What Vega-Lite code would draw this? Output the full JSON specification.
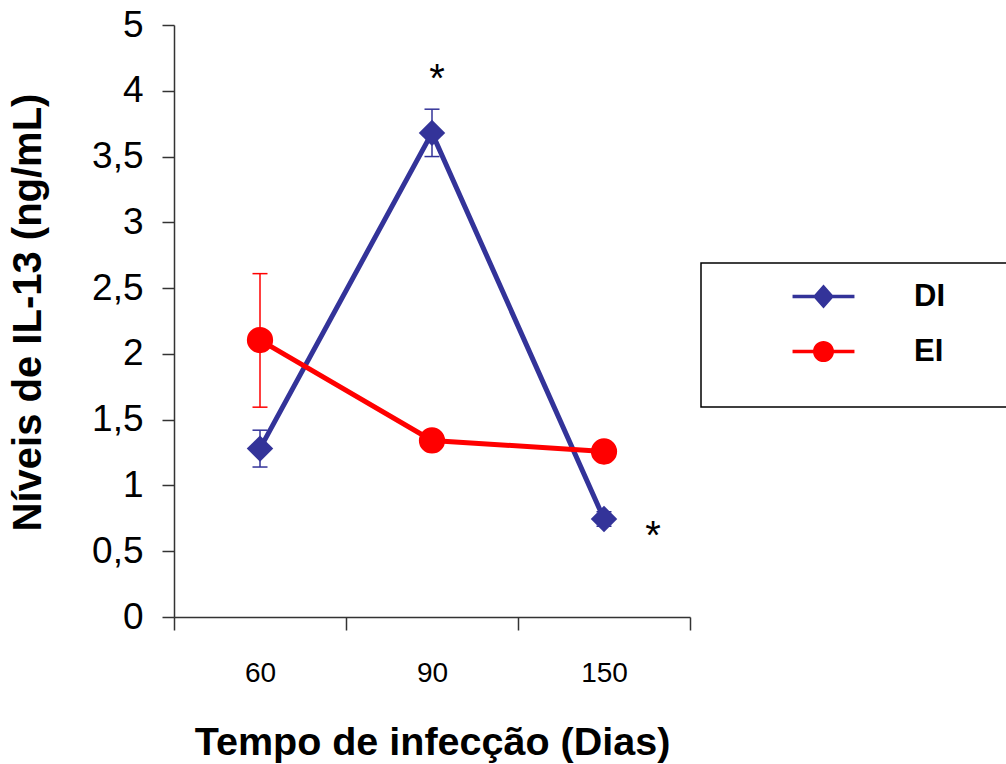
{
  "$schema": "https://vega.github.io/schema/vega-lite/v6.json",
  "width": 516,
  "height": 592,
  "autosize": {"type": "none"},
  "padding": {"left": 174, "top": 25, "right": 316, "bottom": 147},
  "background": "white",
  "config": {
    "view": {"stroke": null},
    "font": "Liberation Sans",
    "axis": {"domainColor": "#333333", "tickColor": "#333333", "domainWidth": 1.5, "tickWidth": 1.5, "grid": false, "labelColor": "black", "titleColor": "black"},
    "legend": {"strokeWidth": 1.5, "symbolOpacity": 1}
  },
  "datasets": {
    "series": [
      {"day": "60", "group": "DI", "mean": 1.28, "lo": 1.14, "hi": 1.42},
      {"day": "90", "group": "DI", "mean": 3.68, "lo": 3.5, "hi": 3.86},
      {"day": "150", "group": "DI", "mean": 0.745, "lo": 0.69, "hi": 0.8},
      {"day": "60", "group": "EI", "mean": 2.105, "lo": 1.595, "hi": 2.61},
      {"day": "90", "group": "EI", "mean": 1.342, "lo": 1.3, "hi": 1.385},
      {"day": "150", "group": "EI", "mean": 1.258, "lo": 1.22, "hi": 1.295}
    ],
    "notes": [
      {"day": "90", "y": 4.08, "label": "*"},
      {"day": "150", "y": 0.61, "label": "*"}
    ]
  },
  "data": {"name": "series"},
  "encoding": {
    "x": {
      "field": "day", "type": "ordinal", "sort": ["60", "90", "150"],
      "scale": {"type": "band", "paddingInner": 0, "paddingOuter": 0},
      "axis": {
        "title": "Tempo de infecção (Dias)", "labelAngle": 0, "tickBand": "extent",
        "labelFontSize": 28, "titleFontSize": 39.5, "titleFontWeight": "bold",
        "tickSize": 13, "labelPadding": 29, "titlePadding": 36
      }
    }
  },
  "layer": [
    {
      "mark": {"type": "rule", "strokeWidth": 1.5, "opacity": 1},
      "encoding": {
        "y": {"field": "lo", "type": "quantitative"},
        "y2": {"field": "hi"},
        "color": {"field": "group", "type": "nominal", "scale": {"domain": ["DI", "EI"], "range": ["#333399", "#FF0000"]}}
      }
    },
    {
      "mark": {"type": "tick", "size": 15, "thickness": 1.5, "orient": "horizontal", "opacity": 1},
      "encoding": {
        "y": {"field": "lo", "type": "quantitative"},
        "color": {"field": "group", "type": "nominal"}
      }
    },
    {
      "mark": {"type": "tick", "size": 15, "thickness": 1.5, "orient": "horizontal", "opacity": 1},
      "encoding": {
        "y": {"field": "hi", "type": "quantitative"},
        "color": {"field": "group", "type": "nominal"}
      }
    },
    {
      "mark": {"type": "line", "strokeWidth": 5, "opacity": 1},
      "encoding": {
        "y": {
          "field": "mean", "type": "quantitative",
          "scale": {"domain": [0, 4.5], "nice": false, "zero": true},
          "axis": {
            "title": "Níveis de IL-13 (ng/mL)",
            "values": [0, 0.5, 1, 1.5, 2, 2.5, 3, 3.5, 4, 4.5],
            "labelExpr": "datum.value == 4.5 ? '5' : replace(format(datum.value, '~g'), '.', ',')",
            "labelFontSize": 37, "titleFontSize": 40, "titleFontWeight": "bold",
            "tickSize": 12, "labelPadding": 19, "titlePadding": 43, "titleY": 287
          }
        },
        "color": {"field": "group", "type": "nominal"}
      }
    },
    {
      "mark": {"type": "point", "filled": true, "size": 576, "opacity": 0},
      "encoding": {
        "y": {"field": "mean", "type": "quantitative"},
        "color": {
          "field": "group", "type": "nominal",
          "legend": {
            "orient": "none", "legendX": 527, "legendY": 238,
            "title": ["\u00a0", "\u00a0", "\u00a0", "\u00a0", "\u00a0"],
            "titleOrient": "right", "titleFontSize": 10, "titleLineHeight": 30, "titlePadding": 55,
            "padding": 18, "strokeColor": "black", "fillColor": "white",
            "symbolSize": 576, "symbolOffset": 89, "labelOffset": 75, "symbolOpacity": 1, "symbolStrokeWidth": 0,
            "labelFontSize": 31, "labelFontWeight": "bold", "labelColor": "black",
            "rowPadding": 23
          }
        },
        "shape": {
          "field": "group", "type": "nominal",
          "scale": {"domain": ["DI", "EI"], "range": [
            "M-2.58,-0.14L-0.7525,-0.14L0,-1L0.7525,-0.14L2.58,-0.14L2.58,0.14L0.7525,0.14L0,1L-0.7525,0.14L-2.58,0.14Z",
            "M-2.58,-0.14L-0.864,-0.14A0.875,0.875 0 0,1 0.864,-0.14L2.58,-0.14L2.58,0.14L0.864,0.14A0.875,0.875 0 0,1 -0.864,0.14L-2.58,0.14Z"
          ]}
        }
      }
    },
    {
      "transform": [{"filter": "datum.group == 'DI'"}],
      "mark": {"type": "point", "filled": true, "size": 700, "opacity": 1, "shape": "diamond"},
      "encoding": {
        "y": {"field": "mean", "type": "quantitative"},
        "color": {"field": "group", "type": "nominal"}
      }
    },
    {
      "transform": [{"filter": "datum.group == 'EI'"}],
      "mark": {"type": "point", "filled": true, "size": 690, "opacity": 1, "shape": "circle"},
      "encoding": {
        "y": {"field": "mean", "type": "quantitative"},
        "color": {"field": "group", "type": "nominal"}
      }
    },
    {
      "data": {"name": "notes"},
      "transform": [{"filter": "datum.day == '90'"}],
      "mark": {"type": "text", "fontSize": 40, "baseline": "middle", "align": "center", "color": "black", "dx": 5},
      "encoding": {
        "y": {"field": "y", "type": "quantitative"},
        "text": {"field": "label"}
      }
    },
    {
      "data": {"name": "notes"},
      "transform": [{"filter": "datum.day == '150'"}],
      "mark": {"type": "text", "fontSize": 40, "baseline": "middle", "align": "center", "color": "black", "dx": 49},
      "encoding": {
        "y": {"field": "y", "type": "quantitative"},
        "text": {"field": "label"}
      }
    }
  ]
}
